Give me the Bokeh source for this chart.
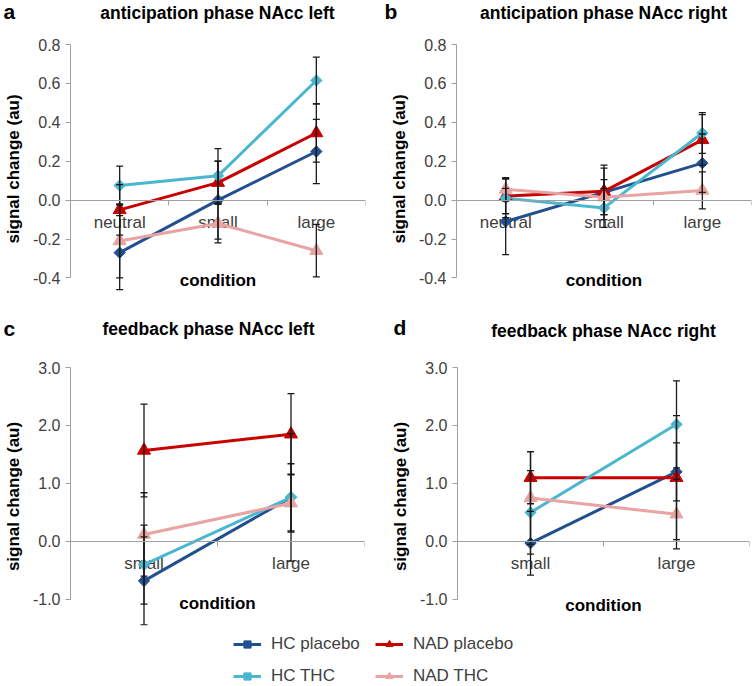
import math
from bokeh.plotting import figure
from bokeh.models import (FactorRange, Range1d, ColumnDataSource, Whisker, TeeHead,
                          Label, FixedTicker, NumeralTickFormatter, Legend, LegendItem,
                          LinearAxis)
from bokeh.core.properties import value
from bokeh.layouts import column, row
from bokeh.embed import file_html
from bokeh.resources import INLINE

FONT = "Liberation Sans"

# ---------------- data ----------------
series_names = ["HC placebo", "NAD placebo", "HC THC", "NAD THC"]
series_colors = ["#22508f", "#c80000", "#4bb6d0", "#e8a3a3"]
series_markers = ["square", "triangle", "square", "triangle"]

cond_anticipation = ["neutral", "small", "large"]
cond_feedback = ["small", "large"]

# a: anticipation phase NAcc left
a_hc_placebo = [-0.27, 0.00, 0.25]
a_hc_placebo_err = [0.19, 0.20, 0.165]
a_nad_placebo = [-0.05, 0.09, 0.345]
a_nad_placebo_err = [0.13, 0.11, 0.15]
a_hc_thc = [0.075, 0.125, 0.615]
a_hc_thc_err = [0.10, 0.14, 0.12]
a_nad_thc = [-0.21, -0.12, -0.26]
a_nad_thc_err = [0.19, 0.10, 0.135]

# b: anticipation phase NAcc right
b_hc_placebo = [-0.11, 0.04, 0.19]
b_hc_placebo_err = [0.17, 0.14, 0.15]
b_nad_placebo = [0.02, 0.045, 0.31]
b_nad_placebo_err = [0.09, 0.12, 0.13]
b_hc_thc = [0.01, -0.04, 0.345]
b_hc_thc_err = [0.10, 0.10, 0.105]
b_nad_thc = [0.055, 0.015, 0.05]
b_nad_thc_err = [0.06, 0.09, 0.095]

# c: feedback phase NAcc left
c_hc_placebo = [-0.68, 0.76]
c_hc_placebo_err = [0.76, 0.58]
c_nad_placebo = [1.57, 1.85]
c_nad_placebo_err = [0.80, 0.70]
c_hc_thc = [-0.40, 0.76]
c_hc_thc_err = [0.68, 1.10]
c_nad_thc = [0.12, 0.66]
c_nad_thc_err = [0.72, 0.50]

# d: feedback phase NAcc right
d_hc_placebo = [-0.03, 1.20]
d_hc_placebo_err = [0.55, 0.50]
d_nad_placebo = [1.10, 1.10]
d_nad_placebo_err = [0.45, 1.07]
d_hc_thc = [0.50, 2.02]
d_hc_thc_err = [0.72, 0.75]
d_nad_thc = [0.75, 0.47]
d_nad_thc_err = [0.80, 0.60]

ticks_anticipation = [-0.4, -0.2, 0.0, 0.2, 0.4, 0.6, 0.8]
ticks_feedback = [-1.0, 0.0, 1.0, 2.0, 3.0]

AXIS_GRAY = "#a0a0a0"
TICK_TEXT = "#404040"
ERR_COLOR = "#1a1a1a"


def marker_style(marker, legend=False):
    if marker == "square":  # Excel-style diamond = square turned 45 degrees
        return dict(marker="square", size=6 if legend else 8, angle=math.pi / 4)
    return dict(marker="triangle", size=9 if legend else 13, angle=0)


def make_panel(letter, title, cats, series, yr, ticks, fw, fh, bl, br, bt, bb,
               cond_y, letter_xy, title_xy):
    p = figure(x_range=FactorRange(*cats), y_range=Range1d(*yr),
               frame_width=fw, frame_height=fh,
               min_border_left=bl, min_border_right=br,
               min_border_top=bt, min_border_bottom=bb,
               x_axis_location=None, toolbar_location=None,
               output_backend="svg")
    p.outline_line_color = None
    p.grid.visible = False

    ya = p.yaxis[0]
    ya.ticker = FixedTicker(ticks=ticks)
    ya.formatter = NumeralTickFormatter(format="0.0")
    ya.bounds = (ticks[0], ticks[-1])
    ya.axis_line_color = AXIS_GRAY
    ya.major_tick_line_color = AXIS_GRAY
    ya.major_tick_out = 5
    ya.major_tick_in = 0
    ya.minor_tick_out = 0
    ya.minor_tick_in = 0
    ya.major_label_standoff = 5
    ya.major_label_text_font = FONT
    ya.major_label_text_font_size = "16px"
    ya.major_label_text_color = TICK_TEXT
    ya.axis_label = "signal change (au)"
    ya.axis_label_text_font = FONT
    ya.axis_label_text_font_size = "17px"
    ya.axis_label_text_font_style = "bold"
    ya.axis_label_text_color = "black"
    ya.axis_label_standoff = 7

    # horizontal category axis crossing at 0, tick marks between categories
    # (its own labels are not painted; the category names are drawn below as text)
    xa = LinearAxis(fixed_location=0, ticker=FixedTicker(ticks=list(range(len(cats) + 1))),
                    axis_line_color=AXIS_GRAY, major_tick_line_color=AXIS_GRAY,
                    major_tick_out=5, major_tick_in=0, minor_tick_out=0, minor_tick_in=0,
                    major_label_text_color=None, major_label_text_font_size="1px",
                    major_label_standoff=0)
    p.add_layout(xa, "below")
    p.text(x=cats, y=[0.0] * len(cats), text=cats, text_align="center",
           text_baseline="middle", y_offset=22, text_font=value(FONT),
           text_font_size="17px", text_color=TICK_TEXT)

    srcs = []
    for (vals, errs), color, marker in zip(series, series_colors, series_markers):
        src = ColumnDataSource(dict(x=cats, y=vals,
                                    upper=[v + e for v, e in zip(vals, errs)],
                                    lower=[v - e for v, e in zip(vals, errs)]))
        p.line(x="x", y="y", source=src, line_color=color, line_width=3)
        srcs.append((src, color, marker))
    for src, color, marker in srcs:
        w = Whisker(base="x", upper="upper", lower="lower", source=src,
                    line_color=ERR_COLOR, line_width=1.3, level="glyph",
                    upper_head=TeeHead(size=7, line_color=ERR_COLOR, line_width=1.3),
                    lower_head=TeeHead(size=7, line_color=ERR_COLOR, line_width=1.3))
        p.add_layout(w)
    for src, color, marker in srcs:
        p.scatter(x="x", y="y", source=src, fill_color=color, line_color=color,
                  **marker_style(marker))

    p.add_layout(Label(x=fw / 2, y=cond_y, x_units="screen", y_units="screen",
                       text="condition", text_align="center", text_baseline="middle",
                       text_font=FONT, text_font_size="17px", text_font_style="bold",
                       text_color="black"))
    p.add_layout(Label(x=letter_xy[0], y=letter_xy[1], x_units="canvas", y_units="canvas",
                       text=letter, text_align="left", text_baseline="middle",
                       text_font=FONT, text_font_size="21px", text_font_style="bold",
                       text_color="black"), "above")
    p.add_layout(Label(x=title_xy[0], y=title_xy[1], x_units="canvas", y_units="canvas",
                       text=title, text_align="center", text_baseline="middle",
                       text_font=FONT, text_font_size="17.5px", text_font_style="bold",
                       text_color="black"), "above")
    return p


BB = 6  # bottom border (holds the tick marks of the crossing axis)

# row 1 (frames: top 44, 0.8 .. -0.48)
fh1 = 249
pa = make_panel("a", "anticipation phase NAcc left", cond_anticipation,
                [(a_hc_placebo, a_hc_placebo_err), (a_nad_placebo, a_nad_placebo_err),
                 (a_hc_thc, a_hc_thc_err), (a_nad_thc, a_nad_thc_err)],
                (-0.48, 0.8), ticks_anticipation, 295, fh1, 67, 10, 44, BB,
                13, (3, 11), (217, 12))
pb = make_panel("b", "anticipation phase NAcc right", cond_anticipation,
                [(b_hc_placebo, b_hc_placebo_err), (b_nad_placebo, b_nad_placebo_err),
                 (b_hc_thc, b_hc_thc_err), (b_nad_thc, b_nad_thc_err)],
                (-0.48, 0.8), ticks_anticipation, 295, fh1, 81, 4, 44, BB,
                13, (9, 11), (228, 12))

# row 2 (frames: top 367, 3.0 .. -1.45)
fh2 = 258
pc = make_panel("c", "feedback phase NAcc left", cond_feedback,
                [(c_hc_placebo, c_hc_placebo_err), (c_nad_placebo, c_nad_placebo_err),
                 (c_hc_thc, c_hc_thc_err), (c_nad_thc, c_nad_thc_err)],
                (-1.45, 3.0), ticks_feedback, 294, fh2, 68, 10, 74 - BB, BB,
                22, (3, 35 - BB), (208, 35 - BB))
pd = make_panel("d", "feedback phase NAcc right", cond_feedback,
                [(d_hc_placebo, d_hc_placebo_err), (d_nad_placebo, d_nad_placebo_err),
                 (d_hc_thc, d_hc_thc_err), (d_nad_thc, d_nad_thc_err)],
                (-1.45, 3.0), ticks_feedback, 292, fh2, 83, 5, 74 - BB, BB,
                20, (19, 34 - BB), (229, 37 - BB))

# legend strip (renderers reuse panel a values, drawn outside the visible range)
LH = 61 - BB
lf = figure(width=752, height=LH, x_range=FactorRange(*cond_anticipation),
            y_range=Range1d(10, 11), x_axis_location=None, y_axis_location=None,
            toolbar_location=None, output_backend="svg", min_border=0)
lf.outline_line_color = None
lf.grid.visible = False
items = []
legend_vals = [a_hc_placebo, a_nad_placebo, a_hc_thc, a_nad_thc]
for name, color, marker, vals in zip(series_names, series_colors, series_markers, legend_vals):
    l = lf.line(x=cond_anticipation, y=vals, line_color=color, line_width=3)
    s = lf.scatter(x=cond_anticipation, y=vals, fill_color=color, line_color=color,
                   **marker_style(marker, legend=True))
    items.append(LegendItem(label=name, renderers=[l, s]))
legend = Legend(items=items, location=(233, 0), orientation="horizontal", ncols=2,
                border_line_color=None, background_fill_alpha=0, padding=0, margin=0,
                spacing=12, glyph_width=28, glyph_height=18, label_height=18,
                label_width=92, label_standoff=10, label_text_font=FONT,
                label_text_font_size="17px", label_text_color=TICK_TEXT)
lf.add_layout(legend)

layout = column(row(pa, pb), row(pc, pd), lf)
open("out.html", "w").write(file_html(layout, INLINE))
